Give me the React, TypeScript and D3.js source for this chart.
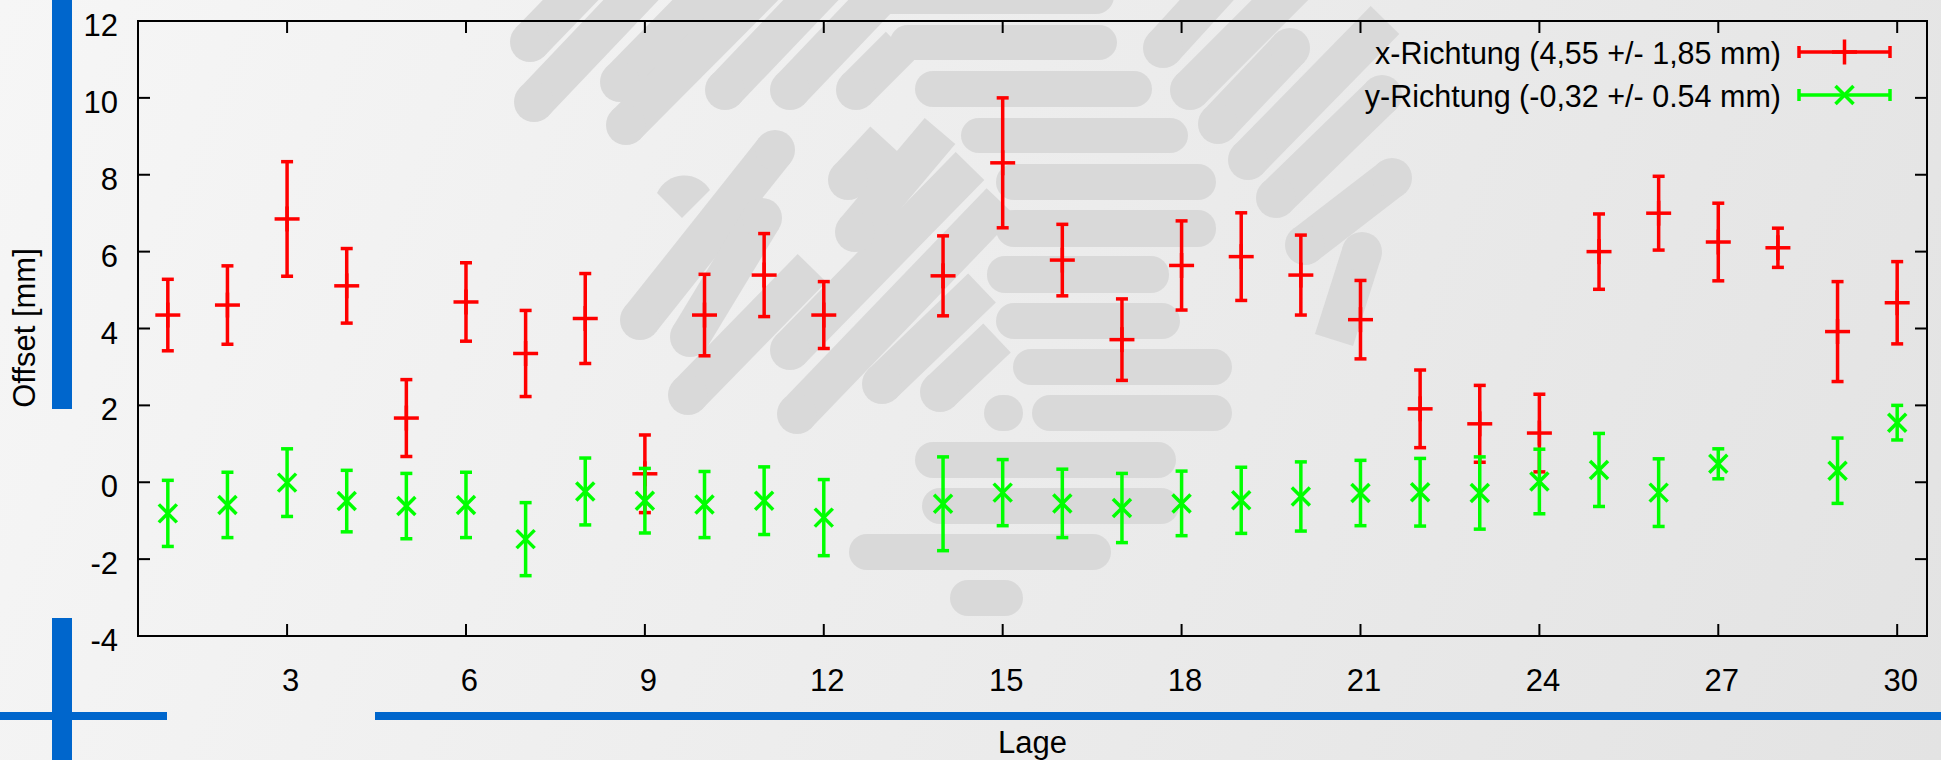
import React from 'react';
import * as d3 from 'd3';

// Lage 1..30, Mittelwert und Fehler je Richtung (null = kein Messwert)
const lagen = [1, 2, 3, 4, 5, 6, 7, 8, 9, 10, 11, 12, 13, 14, 15, 16, 17, 18, 19, 20, 21, 22, 23, 24, 25, 26, 27, 28, 29, 30];
const xRichtung = [4.35, 4.61, 6.85, 5.11, 1.67, 4.69, 3.35, 4.26, 0.22, 4.35, 5.39, 4.35, null, 5.37, 8.31, 5.78, 3.71, 5.64, 5.87, 5.39, 4.23, 1.91, 1.52, 1.28, 6.0, 7.0, 6.25, 6.1, 3.92, 4.67];
const xFehler = [0.93, 1.02, 1.49, 0.97, 1.0, 1.02, 1.12, 1.17, 1.01, 1.06, 1.08, 0.87, null, 1.04, 1.69, 0.93, 1.06, 1.16, 1.14, 1.04, 1.02, 1.01, 1.0, 1.01, 0.98, 0.96, 1.01, 0.51, 1.3, 1.07];
const yRichtung = [-0.81, -0.59, -0.01, -0.49, -0.62, -0.59, -1.48, -0.24, -0.48, -0.58, -0.48, -0.92, null, -0.56, -0.27, -0.55, -0.67, -0.55, -0.47, -0.37, -0.28, -0.26, -0.28, 0.02, 0.32, -0.27, 0.48, null, 0.3, 1.55];
const yFehler = [0.86, 0.85, 0.88, 0.8, 0.85, 0.85, 0.95, 0.87, 0.84, 0.86, 0.88, 0.99, null, 1.22, 0.86, 0.89, 0.9, 0.84, 0.86, 0.9, 0.85, 0.88, 0.94, 0.84, 0.95, 0.88, 0.39, null, 0.85, 0.45];

const yTicks = [-4, -2, 0, 2, 4, 6, 8, 10, 12];
const xTicks = [3, 6, 9, 12, 15, 18, 21, 24, 27, 30];
const legendLabels = ['x-Richtung (4,55 +/- 1,85 mm)', 'y-Richtung (-0,32 +/- 0.54 mm)'];

const FONT = '"Liberation Sans", Arial, Helvetica, sans-serif';
const BLUE = '#0066cc';
const LOGO = '#d9d9d9';

// Hintergrund-Logo (nur Dekoration): waagrechte Balken [x0, x1, y0, y1]
const logoRects = [
  [860, 1114, -30, 14], [890, 1117, 25, 60], [915, 1152, 71, 107], [961, 1188, 118, 153],
  [996, 1216, 164, 200], [996, 1216, 210, 247], [987, 1169, 256, 293], [996, 1180, 303, 339],
  [1013, 1232, 349, 385], [984, 1023, 395, 431], [1032, 1232, 395, 431], [915, 1176, 442, 478],
  [922, 1179, 488, 524], [849, 1111, 534, 570], [950, 1023, 580, 616],
];
// schräge Balken [xa, ya, xb, yb, rundA, rundB]
const logoBars = [
  [530, 42, 590, -20, 1, 0], [534, 102, 650, -20, 1, 0], [620, 82, 720, -20, 1, 0], [626, 125, 770, -20, 1, 0],
  [725, 90, 830, -20, 1, 0], [790, 90, 895, -20, 1, 0], [856, 90, 900, 46, 1, 0],
  [640, 320, 775, 150, 1, 1], [690, 337, 762, 218, 1, 1], [688, 395, 812, 268, 1, 0],
  [790, 350, 970, 166, 1, 0], [797, 414, 1001, 202, 1, 0], [882, 384, 982, 288, 1, 0], [940, 392, 997, 338, 1, 0],
  [855, 232, 940, 131, 1, 0], [848, 180, 885, 140, 1, 0],
  [1163, 48, 1225, -20, 1, 0], [1190, 90, 1300, -20, 1, 0], [1218, 124, 1290, 48, 1, 1], [1248, 160, 1385, 20, 1, 0],
  [1276, 198, 1382, 95, 1, 1], [1305, 245, 1392, 178, 1, 1], [1334, 340, 1362, 252, 0, 1],
];

export default function App() {
  const W = 1941;
  const H = 760;
  const x = d3.scaleLinear().domain([0.5, 30.5]).range([138, 1927]);
  const y = d3.scaleLinear().domain([-4, 12]).range([636, 21]);
  const [x0, x1] = x.range();
  const [y0, y1] = y.range();
  const tick = 12;
  const cap = 6;
  const barW = 40;

  const series = [
    { color: '#ff0000', vals: xRichtung, errs: xFehler, marker: 'plus' },
    { color: '#00ff00', vals: yRichtung, errs: yFehler, marker: 'cross' },
  ];

  const marker = (kind: string, cx: number, cy: number, color: string, key: string) =>
    kind === 'plus' ? (
      <g key={key} stroke={color} strokeWidth={3.5}>
        <line x1={cx - 12.5} x2={cx + 12.5} y1={cy} y2={cy} />
        <line x1={cx} x2={cx} y1={cy - 12.5} y2={cy + 12.5} />
      </g>
    ) : (
      <g key={key} stroke={color} strokeWidth={3.5}>
        <line x1={cx - 9} x2={cx + 9} y1={cy - 9} y2={cy + 9} />
        <line x1={cx - 9} x2={cx + 9} y1={cy + 9} y2={cy - 9} />
      </g>
    );

  return (
    <svg width={W} height={H} style={{ position: 'absolute', left: 0, top: 0 }} fontFamily={FONT}>
      <defs>
        <linearGradient id="bg" gradientUnits="userSpaceOnUse" x1={0} y1={0} x2={W} y2={H}>
          <stop offset="0" stopColor="#f6f6f6" />
          <stop offset="1" stopColor="#e3e3e3" />
        </linearGradient>
      </defs>
      <rect width={W} height={H} fill="url(#bg)" />

      {/* Logo im Hintergrund */}
      <g fill={LOGO}>
        {logoRects.map(([a, b, c, d], i) => (
          <rect key={'r' + i} x={a} y={c} width={b - a} height={d - c} rx={18} />
        ))}
        <path d="M657,193 A30,30 0 0 1 710,190 L682,218 Z" />
        {logoBars.map(([a, b, c, d, ra, rb], i) => (
          <g key={'b' + i}>
            <line x1={a} y1={b} x2={c} y2={d} stroke={LOGO} strokeWidth={barW} />
            {ra ? <circle cx={a} cy={b} r={barW / 2} /> : null}
            {rb ? <circle cx={c} cy={d} r={barW / 2} /> : null}
          </g>
        ))}
      </g>

      {/* blaue Deko-Linien */}
      <rect x={52} y={0} width={20} height={409} fill={BLUE} />
      <rect x={52} y={618} width={20} height={H - 618} fill={BLUE} />
      <rect x={0} y={712} width={167} height={8} fill={BLUE} />
      <rect x={375} y={712} width={W - 375} height={8} fill={BLUE} />

      {/* Rahmen und Ticks */}
      <rect x={x0} y={y1} width={x1 - x0} height={y0 - y1} fill="none" stroke="#000" strokeWidth={2} />
      <g stroke="#000" strokeWidth={2}>
        {yTicks.map((t) => (
          <g key={'yt' + t}>
            <line x1={x0} x2={x0 + tick} y1={y(t)} y2={y(t)} />
            <line x1={x1} x2={x1 - tick} y1={y(t)} y2={y(t)} />
          </g>
        ))}
        {xTicks.map((t) => (
          <g key={'xt' + t}>
            <line x1={x(t)} x2={x(t)} y1={y0} y2={y0 - tick} />
            <line x1={x(t)} x2={x(t)} y1={y1} y2={y1 + tick} />
          </g>
        ))}
      </g>
      <g fontSize={31} fill="#000">
        {yTicks.map((t) => (
          <text key={'yl' + t} x={118} y={y(t) + 15} textAnchor="end">{t}</text>
        ))}
        {xTicks.map((t) => (
          <text key={'xl' + t} x={x(t) + 3.5} y={691} textAnchor="middle">{t}</text>
        ))}
        <text x={(x0 + x1) / 2} y={753} textAnchor="middle">Lage</text>
        <text transform="translate(35,328) rotate(-90)" textAnchor="middle">Offset [mm]</text>
      </g>

      {/* Fehlerbalken */}
      {series.map((s, si) => (
        <g key={'s' + si}>
          {lagen.map((l, i) => {
            const v = s.vals[i];
            const e = s.errs[i];
            if (v == null || e == null) return null;
            const cx = x(l);
            const top = y(v + e);
            const bot = y(v - e);
            return (
              <g key={'p' + i}>
                <g stroke={s.color} strokeWidth={3.5}>
                  <line x1={cx} x2={cx} y1={top} y2={bot} />
                  <line x1={cx - cap} x2={cx + cap} y1={top} y2={top} />
                  <line x1={cx - cap} x2={cx + cap} y1={bot} y2={bot} />
                </g>
                {marker(s.marker, cx, y(v), s.color, 'm' + i)}
              </g>
            );
          })}
        </g>
      ))}

      {/* Legende */}
      {series.map((s, si) => {
        const ly = 52 + si * 43;
        const lx0 = 1799;
        const lx1 = 1890;
        return (
          <g key={'lg' + si}>
            <text x={1781} y={ly + 12} textAnchor="end" fontSize={30.5}>{legendLabels[si]}</text>
            <g stroke={s.color} strokeWidth={3.5}>
              <line x1={lx0} x2={lx1} y1={ly} y2={ly} />
              <line x1={lx0} x2={lx0} y1={ly - cap} y2={ly + cap} />
              <line x1={lx1} x2={lx1} y1={ly - cap} y2={ly + cap} />
            </g>
            {marker(s.marker, (lx0 + lx1) / 2, ly, s.color, 'lm' + si)}
          </g>
        );
      })}
    </svg>
  );
}
